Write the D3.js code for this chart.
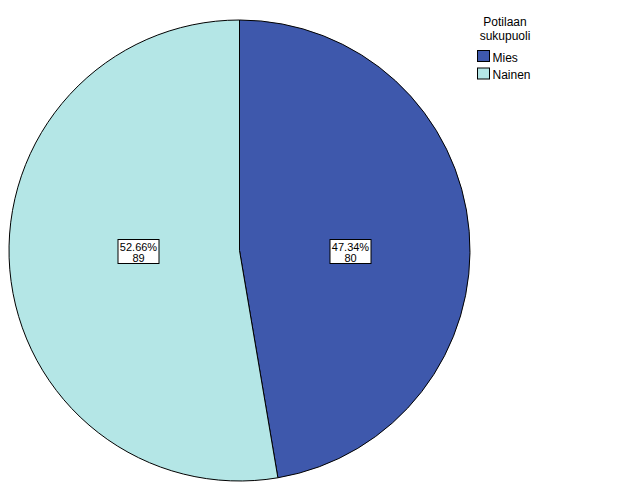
<!DOCTYPE html>
<html><head><meta charset="utf-8">
<script src="https://cdn.jsdelivr.net/npm/d3@7"></script>
<style>body{margin:0;background:#fff}svg{display:block;font-family:"Liberation Sans",Arial,sans-serif}</style>
</head><body><svg id="c" width="629" height="504"></svg>
<script>
const legendTitle = ["Potilaan", "sukupuoli"];
const categories = ["Mies", "Nainen"];
const counts = [80, 89];
const colors = ["#3e58ac", "#b4e6e6"];

const svg = d3.select("#c");
const cx = 239.5, cy = 250.5, R = 230.5;
const total = d3.sum(counts);
const pie = d3.pie().sort(null).value(d => d.v);
const data = pie(categories.map((c, i) => ({c, v: counts[i], col: colors[i]})));
const arc = d3.arc().innerRadius(0).outerRadius(R);
const g = svg.append("g").attr("transform", `translate(${cx},${cy})`);
g.selectAll("path.s").data(data).join("path")
  .attr("d", arc).attr("fill", d => d.data.col)
  .attr("stroke", "#000").attr("stroke-width", 1).attr("stroke-linejoin", "round");

const labR = 106, labShift = 5;
const lab = g.selectAll("g.l").data(data).join("g")
  .attr("transform", d => {
    const a = (d.startAngle + d.endAngle) / 2;
    return `translate(${(Math.sin(a) >= 0 ? labR : -labR) + labShift},1)`;
  });
lab.append("rect").attr("x", -20.5).attr("y", -12).attr("width", 41).attr("height", 24)
  .attr("fill", "#fff").attr("stroke", "#000").attr("stroke-width", 1);
lab.append("text").attr("text-anchor", "middle").attr("y", -1).attr("font-size", 11)
  .text(d => (d.data.v / total * 100).toFixed(2) + "%");
lab.append("text").attr("text-anchor", "middle").attr("y", 10).attr("font-size", 11)
  .text(d => d.data.v);

const leg = svg.append("g");
leg.selectAll("text.t").data(legendTitle).join("text")
  .attr("x", 505).attr("y", (d, i) => 26 + i * 14).attr("text-anchor", "middle")
  .attr("font-size", 12).attr("fill", "#000").text(d => d);
const items = leg.selectAll("g.i").data(categories).join("g")
  .attr("transform", (d, i) => `translate(477.5,${50.5 + i * 17.5})`);
items.append("rect").attr("width", 12).attr("height", 11)
  .attr("fill", (d, i) => colors[i]).attr("stroke", "#000").attr("stroke-width", 1);
items.append("text").attr("x", 15).attr("y", 11).attr("font-size", 12).text(d => d);
</script></body></html>
